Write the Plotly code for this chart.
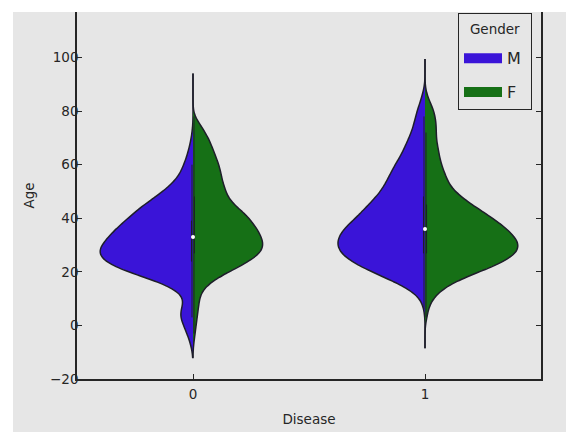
import numpy as np
import plotly.graph_objects as go

# ---- data ----
disease_levels = [0, 1]
disease_labels = ["0", "1"]
genders = ["M", "F"]

# age bins (years) and estimated number of patients per bin
age_bins = [-9, -6, -3, 0, 3, 6, 9, 12, 15, 18, 21, 24, 27, 30, 33, 36, 39,
            42, 45, 48, 51, 54, 57, 60, 63, 66, 69, 72, 75, 78, 81, 84, 87, 90]
counts_d0_m = [1, 3, 6, 9, 13, 12, 8, 11, 24, 47, 72, 87, 93, 89, 82, 75, 66,
               57, 48, 36, 26, 17, 12, 9, 6, 4, 2, 1, 0, 0, 0, 0, 0, 0]
counts_d0_f = [0, 1, 2, 3, 4, 5, 6, 7, 13, 24, 40, 55, 66, 69, 66, 62, 56,
               50, 39, 33, 31, 28, 27, 25, 22, 19, 16, 12, 7, 1, 0, 0, 0, 0]
counts_d1_m = [0, 0, 0, 0, 0, 1, 3, 9, 22, 40, 57, 73, 82, 86, 84, 79, 70,
               62, 55, 47, 41, 37, 33, 29, 24, 20, 17, 13, 11, 9, 7, 4, 2, 0]
counts_d1_f = [0, 0, 0, 0, 2, 3, 6, 12, 22, 39, 60, 79, 90, 93, 88, 80, 70,
               58, 46, 35, 26, 22, 19, 16, 14, 13, 11, 11, 11, 10, 8, 4, 1, 0]

counts = {
    (0, "M"): counts_d0_m,
    (0, "F"): counts_d0_f,
    (1, "M"): counts_d1_m,
    (1, "F"): counts_d1_f,
}

# ---- styles ----
colors = {"M": "#3a14d8", "F": "#167016"}
sides = {"M": "negative", "F": "positive"}
widths = {(0, "M"): 0.80, (0, "F"): 0.60, (1, "M"): 0.75, (1, "F"): 0.80}
spans = {0: [-12, 94], 1: [-8.5, 99.5]}
outline = "#1e1e2a"
bg = "#e6e6e6"
font_family = "DejaVu Sans"

W, H = 566, 432
M_L, M_R, M_T, M_B = 77, 25, 12, 53
PW, PH = W - M_L - M_R, H - M_T - M_B

fig = go.Figure()

for d in disease_levels:
    for g in genders:
        ages = np.repeat(age_bins, counts[(d, g)])
        fig.add_trace(go.Violin(
            x=[d] * len(ages), y=ages,
            name=g, legendgroup=g, showlegend=False,
            side=sides[g],
            fillcolor=colors[g],
            line=dict(color=outline, width=1.5),
            opacity=1,
            points=False,
            box=dict(visible=True, width=0.012, fillcolor=outline,
                     line=dict(color=outline, width=1)),
            meanline_visible=False,
            bandwidth=2.5,
            spanmode="manual", span=spans[d],
            scalemode="width", scalegroup=f"{d}{g}",
            width=widths[(d, g)],
            hoveron="violins",
        ))

# median dots (computed from both genders of each disease group)
medians = [float(np.median(np.concatenate(
    [np.repeat(age_bins, counts[(d, g)]) for g in genders])))
    for d in disease_levels]
fig.add_trace(go.Scatter(
    x=disease_levels, y=medians, mode="markers", showlegend=False,
    marker=dict(color="white", size=4, line=dict(width=0)),
    hoverinfo="skip",
))

# legend entries
for g in genders:
    fig.add_trace(go.Scatter(
        x=[None], y=[None], mode="lines", name=g + "\u00a0", legendgroup=g,
        line=dict(color=colors[g], width=14),
    ))

fig.update_layout(
    width=W, height=H,
    margin=dict(l=M_L, r=M_R, t=M_T, b=M_B, autoexpand=False),
    paper_bgcolor=bg, plot_bgcolor=bg,
    font=dict(family=font_family, size=13, color="#262626"),
    violinmode="overlay",
    showlegend=True,
    legend=dict(
        x=(458 - M_L) / PW, y=1 - 1 / PH, xanchor="left", yanchor="top",
        bordercolor="#262626", borderwidth=1, bgcolor="rgba(0,0,0,0)",
        font=dict(size=16),
        title=dict(
            text='<span style="font-size:13.5px;baseline-shift:7px">Gender</span>',
            side="top center", font=dict(size=21)),
        tracegroupgap=10, itemwidth=38,
    ),
    shapes=[
        dict(type="rect", xref="paper", yref="paper", layer="above",
             x0=-M_L / PW - 0.01, x1=1 + M_R / PW + 0.01,
             y0=1.0, y1=1 + M_T / PH + 0.01,
             fillcolor="white", line=dict(width=0)),
        dict(type="rect", xref="paper", yref="paper", layer="above",
             x0=-M_L / PW - 0.01, x1=(13 - M_L) / PW,
             y0=-M_B / PH - 0.01, y1=1 + M_T / PH + 0.01,
             fillcolor="white", line=dict(width=0)),
    ],
)

fig.update_xaxes(
    range=[-0.5, 1.5], tickvals=disease_levels, ticktext=disease_labels,
    showgrid=False, zeroline=False,
    showline=True, linecolor="#262626", linewidth=1.5, mirror=False,
    ticks="inside", ticklen=5, tickcolor="#262626",
    tickfont=dict(size=13.5), ticklabelstandoff=2,
    title=dict(text="Disease", font=dict(size=13.5), standoff=14),
)
fig.update_yaxes(
    range=[-20, 117], tickvals=[-20, 0, 20, 40, 60, 80, 100],
    showgrid=False, zeroline=False,
    showline=True, linecolor="#262626", linewidth=1.5, mirror="ticks",
    ticks="inside", ticklen=5, tickcolor="#262626",
    tickfont=dict(size=13.5), ticklabelstandoff=-6,
    title=dict(text="Age", font=dict(size=13.5), standoff=12),
)

page_js = (
    "document.body.style.margin='0';"
    "document.body.style.overflow='hidden';"
    "document.documentElement.style.overflow='hidden';"
    "document.body.style.background='%s';"
    "document.documentElement.style.background='%s';" % (bg, bg)
)
fig.write_html("out.html", config={"displayModeBar": False}, post_script=page_js)
